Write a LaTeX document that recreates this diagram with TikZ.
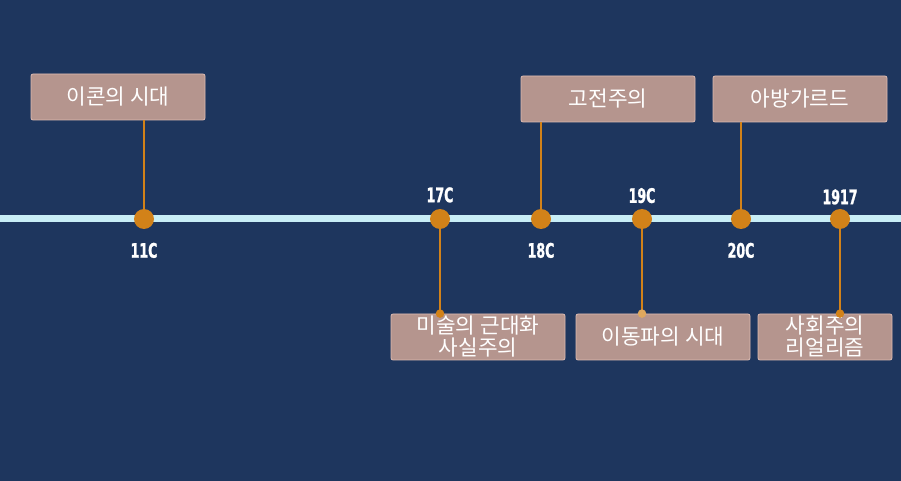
\documentclass[tikz,border=0pt]{standalone}
\usepackage{fontspec}
\usetikzlibrary{positioning}
\newfontfamily\kofont{Noto Sans CJK KR}
\newfontfamily\yearfont{DejaVu Sans Condensed}[FakeStretch=0.7,FakeBold=1.2]
\definecolor{Navy}{RGB}{30,54,94}
\definecolor{Amber}{RGB}{210,130,25}
\definecolor{Rose}{RGB}{181,149,142}
\definecolor{RoseEdge}{RGB}{222,188,178}
\definecolor{Ice}{RGB}{200,238,246}

\begin{document}
\begin{tikzpicture}[x=0.75pt,y=-0.75pt,
  era/.style={draw=RoseEdge,line width=0.6pt,fill=Rose,rounded corners=1.5pt,
    minimum width=130.5pt,minimum height=34.5pt,inner sep=0pt,align=center,
    text=white,font=\kofont\fontsize{16}{16.5}\selectfont},
  dot/.style={circle,fill=Amber,minimum size=15pt,inner sep=0pt},
  stem/.style={Amber,line width=2pt},
  yr/.style={text=white,inner sep=0pt,font=\yearfont\bfseries\fontsize{15}{16}\selectfont}]
  \useasboundingbox (0,0) rectangle (901,481);
  \fill[Navy] (0,0) rectangle (901,481);
  \draw[Ice,line width=5.25pt] (0,219) -- (901,219);

  % points on the line
  \node[dot] (d11) at (144,219) {};
  \node[dot] (d17) at (440,219) {};
  \node[dot] (d18) at (541,219) {};
  \node[dot] (d19) at (642,219) {};
  \node[dot] (d20) at (741,219) {};
  \node[dot] (d1917) at (840,219) {};

  \node[yr,below=10pt of d11] (l11) {11C};
  \node[yr,above=4.5pt of d17] (l17) {17C};
  \node[yr,below=10pt of d18] (l18) {18C};
  \node[yr,above=4pt of d19] (l19) {19C};
  \node[yr,below=10pt of d20] (l20) {20C};
  \node[yr,above=3pt of d1917] (l1917) {1917};

  % boxes above
  \node[era] (icon) at (118,97) {이콘의 시대};
  \node[era] (classic) at (608,99) {고전주의};
  \node[era] (avant) at (800,99) {아방가르드};
  % boxes below
  \node[era] (real) at (478,337) {미술의 근대화\\사실주의};
  \node[era] (itin) at (663,337) {이동파의 시대};
  \node[era,minimum width=100.5pt] (socre) at (825,337) {사회주의\\리얼리즘};

  \draw[stem] (icon.south -| d11) -- (d11);
  \draw[stem] (classic.south -| d18) -- (d18);
  \draw[stem] (avant.south -| d20) -- (d20);

  \coordinate (t17) at (real.north -| d17);
  \coordinate (t19) at (itin.north -| d19);
  \coordinate (t1917) at (socre.north -| d1917);
  \draw[stem] (d17) -- (t17);
  \draw[stem] (d19) -- (t19);
  \draw[stem] (d1917) -- (t1917);
  \fill[Amber] (t17) circle (3.2pt);
  \fill[Amber!70!white] (t19) circle (3.2pt);
  \fill[Amber] (t1917) circle (3.2pt);
\end{tikzpicture}
\end{document}
